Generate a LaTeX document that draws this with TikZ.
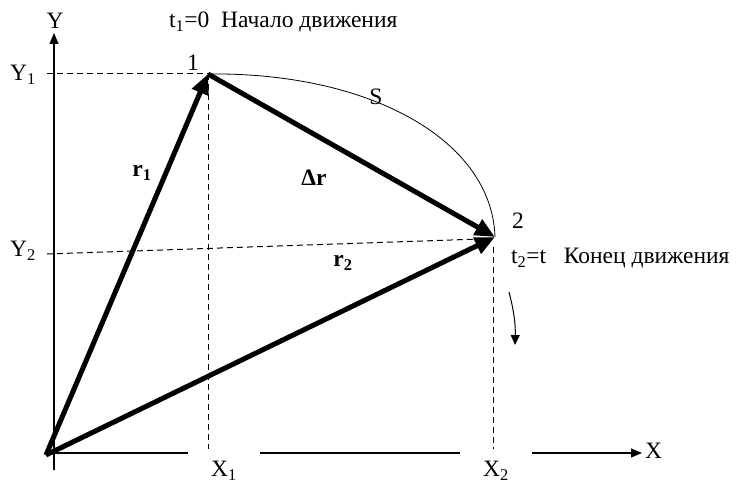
\documentclass[tikz,border=0pt]{standalone}
\usepackage{fontspec}
\setmainfont{Liberation Serif}
\usetikzlibrary{arrows.meta}
\newcommand{\bvec}[2]{\textbf{#1}\textsubscript{\textbf{#2}}}% bold vector with index

\begin{document}
\begin{tikzpicture}[x=1pt,y=-1pt,
  lbl/.style={font=\fontsize{23.5}{27}\selectfont,inner sep=1pt},
  gap/.style={lbl,fill=white,minimum width=72pt,minimum height=40pt},
  vec/.style={line width=5pt,-{Triangle[length=20pt,width=17pt]}},
  guide/.style={line width=1pt,dash pattern=on 6pt off 4pt},
  axis/.style={line width=1.1pt,-{Triangle[length=11pt,width=9pt]}}]
  \useasboundingbox (0,0) rectangle (739,484);
  % points
  \coordinate (o) at (46,455);
  \coordinate (p1) at (208,74);
  \coordinate (p2) at (495,237);
  \coordinate (ybot) at (54,470);
  \coordinate (ytop) at (54,33);
  \coordinate (xbeg) at (48,453);
  \coordinate (xend) at (642,453);
  % axes
  \draw[axis] (ybot) -- (ytop);
  \draw[axis] (xbeg) -- (xend);
  \node[lbl] (ylab) at (55,21) {Y};
  \node[lbl,anchor=west] (xlab) at (644,451) {X};
  % projections
  \coordinate (y1s) at (47,74);
  \coordinate (y2s) at (47,254);
  \coordinate (y2e) at (480,239);
  \coordinate (x1e) at (208,453);
  \coordinate (x2s) at (493,247);
  \coordinate (x2e) at (493,453);
  \draw[guide] (y1s) -- (p1);
  \draw[guide] (p1) -- (x1e);
  \draw[guide] (y2s) -- (y2e);
  \draw[guide] (x2s) -- (x2e);
  \node[gap,text depth=0pt] (x1lab) at (224,469) {X\textsubscript{1}};
  \node[gap,text depth=0pt] (x2lab) at (496,469) {X\textsubscript{2}};
  \node[lbl] (y1lab) at (23,75) {Y\textsubscript{1}};
  \node[lbl] (y2lab) at (23,251) {Y\textsubscript{2}};
  % path S
  \draw[line width=0.8pt] (p1) .. controls (370,72) and (492,140) .. (p2);
  \node[lbl] (slab) at (376,97) {S};
  % vectors
  \draw[vec] (o) -- (p1);
  \draw[vec] (o) -- (p2);
  \draw[vec] (p1) -- (p2);
  \node[lbl] (r1lab) at (142,173) {\bvec{r}{1}};
  \node[lbl] (r2lab) at (343,263) {\bvec{r}{2}};
  \node[lbl] (drlab) at (314,178) {\textbf{Δr}};
  % start and end
  \node[lbl] (n1) at (193,63) {1};
  \node[lbl] (n2) at (518,221) {2};
  \node[lbl,anchor=west] (start) at (168,22) {t\textsubscript{1}=0\ \ Начало движения};
  \node[lbl,anchor=west] (finish) at (510,258) {t\textsubscript{2}=t\ \ \ Конец движения};
  \coordinate (mvs) at (509,292);
  \coordinate (mve) at (515,345);
  \draw[line width=1pt,-{Triangle[length=10pt,width=9pt]}] (mvs) to[bend left=8] (mve);
\end{tikzpicture}
\end{document}
